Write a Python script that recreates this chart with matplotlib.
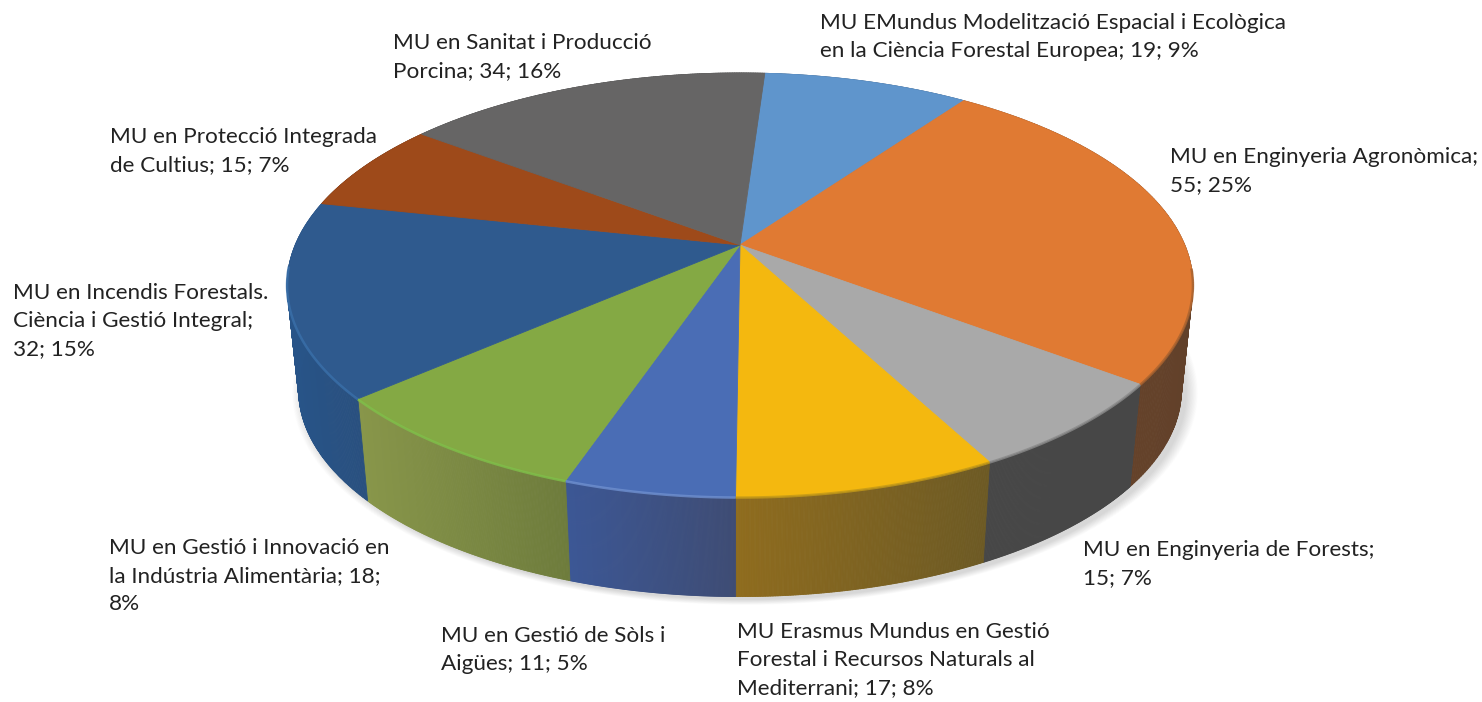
import numpy as np
import matplotlib
matplotlib.use('Agg')
import matplotlib.pyplot as plt
from matplotlib.collections import PolyCollection
from matplotlib.colors import to_rgb

# dades
values = [19, 55, 15, 17, 11, 18, 32, 15, 34]
labels = [
    'MU EMundus Modelització Espacial i Ecològica\nen la Ciència Forestal Europea; {v}; {p}%',
    'MU en Enginyeria Agronòmica;\n{v}; {p}%',
    'MU en Enginyeria de Forests;\n{v}; {p}%',
    'MU Erasmus Mundus en Gestió\nForestal i Recursos Naturals al\nMediterrani; {v}; {p}%',
    'MU en Gestió de Sòls i\nAigües; {v}; {p}%',
    'MU en Gestió i Innovació en\nla Indústria Alimentària; {v};\n{p}%',
    'MU en Incendis Forestals.\nCiència i Gestió Integral;\n{v}; {p}%',
    'MU en Protecció Integrada\nde Cultius; {v}; {p}%',
    'MU en Sanitat i Producció\nPorcina; {v}; {p}%',
]

# colors
top_colors = ['#5f95cc', '#e07a33', '#a9a9a9', '#f4b80f', '#4a6db5',
              '#84a944', '#2f5a8e', '#9e4a1a', '#666565']
wall_left = ['#3c5f85', '#6e4528', '#474747', '#8f6c1e', '#3c5795',
             '#88964a', '#285488', '#68351a', '#444444']
wall_right = ['#3c5f85', '#62412a', '#474747', '#6d5a24', '#3e4c74',
              '#6e7c3c', '#29507f', '#68351a', '#444444']
rim_colors = ['#5f95cc', '#a8622f', '#8a8a8a', '#c49a18', '#6f90d0',
              '#7fc04a', '#3a70aa', '#9e4a1a', '#666565']

# posicio dels textos (px, primera linia)
label_x = [820, 1170, 1083, 737, 441, 109, 13, 110, 393]
label_y = [13, 147, 540, 622, 626, 538, 283, 127, 33]

# geometria del pastis en perspectiva
cx, cy = 740, 245
a, b, k = 444.8, 204.5, 0.1887
start = np.radians(3.8)
vanish_y = 4400
depth = 0.9745


def project(t):
    u, v = np.sin(t), np.cos(t)
    return cx + a * u / (1 + k * v), cy - b * v / (1 + k * v)


def lower(x, y):
    return cx + (x - cx) * depth, vanish_y + (y - vanish_y) * depth


fig = plt.figure(figsize=(14.82, 7.02), dpi=100, facecolor='white')
ax = fig.add_axes([0, 0, 1, 1])
ax.set_xlim(0, 1482)
ax.set_ylim(702, 0)
ax.axis('off')

# ombra difusa
tt = np.linspace(0, 2 * np.pi, 400)
sx, sy = lower(*project(tt))
mx, my = (sx.min() + sx.max()) / 2, (sy.min() + sy.max()) / 2
for grow in np.linspace(1.026, 1.0, 20):
    ax.fill(mx + 5 + (sx - mx) * grow, my + 3 + (sy - my) * grow,
            color='black', alpha=0.009, lw=0, zorder=1)

total = sum(values)
edges = start + 2 * np.pi * np.cumsum([0] + values) / total

# parets laterals: tires fines amb degradat horitzontal
for i in range(len(values)):
    t = np.linspace(edges[i], edges[i + 1], 160)
    x, y = project(t)
    xl, yl = lower(x, y)
    quads = [[(x[j], y[j]), (x[j + 1], y[j + 1]), (xl[j + 1], yl[j + 1]), (xl[j], yl[j])]
             for j in range(len(t) - 1)]
    xm = (x[:-1] + x[1:]) / 2
    f = (xm - xm.min()) / (xm.max() - xm.min())
    c0, c1 = np.array(to_rgb(wall_left[i])), np.array(to_rgb(wall_right[i]))
    cols = c0 + f[:, None] * (c1 - c0)
    ax.add_collection(PolyCollection(quads, facecolors=cols, edgecolors=cols,
                                     linewidths=0.6, zorder=2))

# cara superior
for i in range(len(values)):
    t = np.linspace(edges[i], edges[i + 1], 120)
    x, y = project(t)
    ax.fill(np.r_[cx, x], np.r_[cy, y], color=top_colors[i], lw=0.6, zorder=3)

# bisell de la vora
for i in range(len(values)):
    t = np.linspace(edges[i], edges[i + 1], 120)
    x, y = project(t)
    near = np.cos(t) < -0.1
    ax.plot(x[near], y[near] + 0.5, color=rim_colors[i], lw=1.8, alpha=0.8,
            solid_capstyle='butt', zorder=4)

# etiquetes
for i, tmpl in enumerate(labels):
    pct = round(100 * values[i] / total)
    ax.text(label_x[i], label_y[i], tmpl.format(v=values[i], p=pct),
            family='Lato', fontsize=16.2, color='#222222', ha='left', va='top',
            linespacing=1.5, zorder=5)

fig.savefig('out.png', dpi=100, facecolor='white')
